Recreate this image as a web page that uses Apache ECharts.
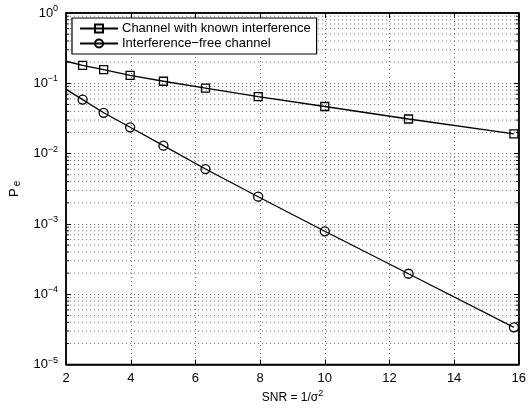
<!DOCTYPE html>
<html><head><meta charset="utf-8">
<script src="https://cdn.jsdelivr.net/npm/echarts@6/dist/echarts.min.js"></script>
<style>html,body{margin:0;padding:0;background:#fff}#c{width:529px;height:409px}</style>
</head><body><div id="c"></div>
<script>
// SNR values (linear) where markers are drawn
const snrMarkers = [2.51, 3.16, 3.98, 5.01, 6.31, 7.94, 10.0, 12.59, 15.85];
// Channel with known interference
const peKnown = [0.180, 0.157, 0.130, 0.107, 0.0857, 0.0646, 0.0468, 0.0311, 0.0191];
// Interference-free channel
const peFree = [0.0587, 0.0381, 0.0237, 0.0130, 0.00604, 0.00244, 0.000787, 0.000196, 3.39e-5];
// Curve start at left edge (no marker)
const snrStart = 2;
const peKnownStart = 0.206;
const peFreeStart = 0.082;
const seriesNames = ['Channel with known interference', 'Interference\u2212free channel'];
const xTicks = [2, 4, 6, 8, 10, 12, 14, 16];
const yExponents = [0, -1, -2, -3, -4, -5];

const FONT = 'Liberation Sans, Arial, Helvetica, sans-serif';
function build(start, vals) {
  const d = [{ value: [snrStart, start], symbol: 'none' }];
  snrMarkers.forEach((x, i) => d.push([x, vals[i]]));
  return d;
}
const dotted = { type: [1, 3], color: '#6a6a6a', width: 1 };

// minor log grid lines (2..9 x 10^e) as silent helper series
const minorSeries = [];
for (let e = -5; e < 0; e++) for (let k = 2; k <= 9; k++) {
  const v = k * Math.pow(10, e);
  minorSeries.push({
    type: 'line', silent: true, symbol: 'none', data: [[2, v], [16, v]],
    lineStyle: dotted, z: 1, tooltip: { show: false }
  });
  // minor ticks left / right
  minorSeries.push({ type: 'line', silent: true, symbol: 'none', data: [[2, v], [2.09, v]], lineStyle: { color: '#000', width: 1 }, z: 2 });
  minorSeries.push({ type: 'line', silent: true, symbol: 'none', data: [[15.91, v], [16, v]], lineStyle: { color: '#000', width: 1 }, z: 2 });
}

function sup(n) { return String(n).replace('-', '\u2212'); }

const chart = echarts.init(document.getElementById('c'), null, { renderer: 'canvas' });
chart.setOption({
  animation: false,
  backgroundColor: '#fff',
  textStyle: { fontFamily: FONT },
  grid: { left: 66, right: 9, top: 13, bottom: 40, show: true, borderColor: '#000', borderWidth: 1.5 },
  legend: {
    left: 72, top: 18, orient: 'vertical', itemGap: 2, itemWidth: 38, itemHeight: 10,
    padding: [4, 6, 4, 7],
    backgroundColor: '#fff', borderColor: '#000', borderWidth: 1.2, borderRadius: 0,
    textStyle: { fontFamily: FONT, fontSize: 13, color: '#000', padding: [0, 0, 0, -1] },
    data: seriesNames
  },
  xAxis: [{
    type: 'value', min: 2, max: 16, interval: 2,
    name: '{a|SNR = 1/\u03c3}{s|2}', nameLocation: 'middle', nameGap: 22,
    nameTextStyle: { rich: { a: { fontSize: 12, fontFamily: FONT, color: '#000' }, s: { fontSize: 9, fontFamily: FONT, color: '#000', padding: [0, 0, 8, 0] } } },
    axisLine: { show: true, lineStyle: { color: '#000', width: 1.5 } },
    axisTick: { show: true, inside: true, length: 5, lineStyle: { color: '#000' } },
    axisLabel: { color: '#000', fontSize: 13, fontFamily: FONT, margin: 7 },
    splitLine: { show: true, lineStyle: dotted }
  }, {
    type: 'value', min: 2, max: 16, interval: 2, position: 'top',
    axisLine: { show: true, lineStyle: { color: '#000', width: 1.5 } },
    axisTick: { show: true, inside: true, length: 5, lineStyle: { color: '#000' } },
    axisLabel: { show: false }, splitLine: { show: false }
  }],
  yAxis: [{
    type: 'log', logBase: 10, min: 1e-5, max: 1,
    name: '{p|P}{e|e}', nameLocation: 'middle', nameGap: 42, nameRotate: 90,
    nameTextStyle: { rich: { p: { fontSize: 13, fontFamily: FONT, color: '#000' }, e: { fontSize: 10, fontFamily: FONT, color: '#000', padding: [6, 0, 0, 2] } } },
    axisLine: { show: true, lineStyle: { color: '#000', width: 1.5 } },
    axisTick: { show: true, inside: true, length: 5, lineStyle: { color: '#000' } },
    axisLabel: {
      margin: 8,
      formatter: v => { const e = Math.round(Math.log10(v)); return '{a|10}{s|' + sup(e) + '}'; },
      rich: { a: { fontSize: 13, fontFamily: FONT, color: '#000' }, s: { fontSize: 9, fontFamily: FONT, color: '#000', padding: [0, 0, 9, 0] } }
    },
    splitLine: { show: true, lineStyle: dotted }
  }, {
    type: 'log', logBase: 10, min: 1e-5, max: 1, position: 'right',
    axisLine: { show: true, lineStyle: { color: '#000', width: 1.5 } },
    axisTick: { show: true, inside: true, length: 5, lineStyle: { color: '#000' } },
    axisLabel: { show: false }, splitLine: { show: false }
  }],
  series: minorSeries.concat([{
    name: seriesNames[0], type: 'line', data: build(peKnownStart, peKnown),
    symbol: 'rect', symbolSize: 8, showAllSymbol: true,
    lineStyle: { color: '#000', width: 1.3 },
    itemStyle: { color: 'rgba(255,255,255,0)', borderColor: '#000', borderWidth: 1.3 },
    z: 5
  }, {
    name: seriesNames[1], type: 'line', data: build(peFreeStart, peFree),
    symbol: 'circle', symbolSize: 9, showAllSymbol: true,
    lineStyle: { color: '#000', width: 1.3 },
    itemStyle: { color: 'rgba(255,255,255,0)', borderColor: '#000', borderWidth: 1.3 },
    z: 5
  }])
});
</script></body></html>
